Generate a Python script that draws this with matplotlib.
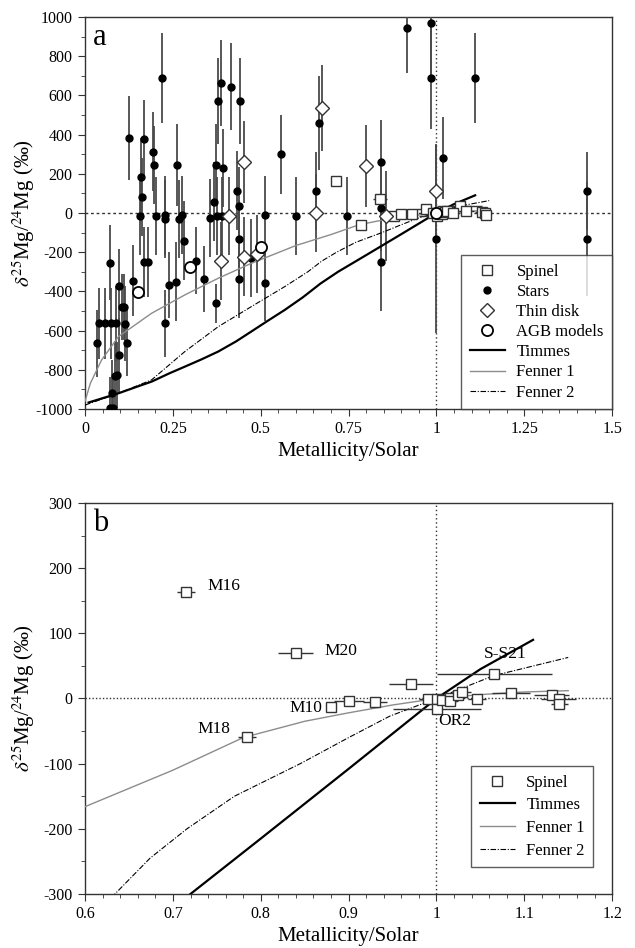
import matplotlib
matplotlib.use("Agg")
import matplotlib.pyplot as plt
from matplotlib.ticker import MultipleLocator, FixedLocator, FixedFormatter

plt.rcParams['font.family'] = ['Liberation Serif', 'DejaVu Serif']
plt.rcParams['mathtext.fontset'] = 'stix'
plt.rcParams['axes.unicode_minus'] = False

# ---------------- data ----------------
# Stars (metallicity, delta25Mg, yerr)
star_x = [0.034, 0.041, 0.058, 0.074, 0.072, 0.078, 0.071, 0.080, 0.085, 0.091,
          0.088, 0.097, 0.097, 0.104, 0.110, 0.115, 0.119, 0.137,
          0.126, 0.158, 0.163, 0.168, 0.157, 0.192, 0.197, 0.202, 0.218, 0.228,
          0.227, 0.263, 0.268, 0.277, 0.282, 0.356, 0.366, 0.372, 0.375, 0.377,
          0.386, 0.389, 0.392, 0.415, 0.433, 0.437, 0.437, 0.441, 0.513, 0.557,
          0.601, 0.665, 0.656, 0.745, 0.841, 0.841, 0.841, 0.915, 0.985, 0.985,
          1.000, 1.019, 1.110, 1.428, 1.428,
          0.168, 0.180, 0.227, 0.239, 0.258, 0.317, 0.339, 0.372, 0.437, 0.471, 0.513]
star_y = [-665, -563, -563, -563, -253, -918, -996, -996, -830, -826,
          -563, -372, -724, -480, -480, -565, -661, -345,
          384, 182, 83, 377, -14, 313, 245, -14, 690, -31,
          -12, 245, -31, -10, -141, -27, 58, 245, -14, 573,
          665, -14, 228, 645, 114, 37, -132, 573, -12, 299,
          -14, 461, 112, -15, 262, 24, -252, 942, 971, 690,
          -134, 279, 690, 112, -134,
          -250, -250, -563, -367, -350, -243, -337, -461, -337, -231, -359]
star_err = [170, 180, 180, 180, 190, 170, 160, 160, 170, 170,
            190, 190, 190, 170, 170, 190, 170, 180,
            215, 200, 200, 200, 200, 200, 200, 200, 230, 200,
            200, 210, 200, 200, 200, 200, 200, 210, 200, 220,
            220, 200, 200, 220, 200, 200, 200, 220, 200, 200,
            200, 240, 200, 200, 210, 220, 250, 230, 260, 260,
            480, 210, 230, 200, 290,
            180, 180, 170, 170, 200, 170, 170, 100, 200, 200, 190]

# Thin disk
disk_x = [0.410, 0.453, 0.386, 0.453, 0.489, 0.656, 0.673, 0.800, 0.855, 1.000]
disk_y = [-14, 259, -245, -223, -209, 0, 534, 241, -15, 112]
disk_err = [200, 210, 200, 200, 200, 200, 220, 210, 230, 240]

# AGB models
agb_x = [0.151, 0.299, 0.502, 1.000]
agb_y = [-405, -277, -172, 0]

# Spinel
sp_x = [0.715, 0.840, 0.784, 0.880, 0.900, 0.930, 0.971, 1.066, 0.990, 1.001,
        1.001, 1.006, 1.015, 1.015, 1.024, 1.029, 1.046, 1.085, 1.131, 1.139, 1.140]
sp_y = [163, 70, -59, -13, -4, -6, 22, 38, -1, -1,
        -16, -2, 1, -4, 5, 10, -1, 9, 6, -1, -9]
sp_xerr = [0.01, 0.02, 0.01, 0.005, 0.017, 0.014, 0.025, 0.065, 0.01, 0.01,
           0.05, 0.01, 0.01, 0.01, 0.01, 0.01, 0.01, 0.022, 0.02, 0.02, 0.01]
sp_labels = ['M16', 'M20', 'M18', 'M10', 'S-S21', 'OR2']
sp_label_x = [0.739, 0.873, 0.765, 0.870, 1.054, 1.002]
sp_label_y = [173, 73, -47, -14, 69, -34]

# Models
timmes_x = [0.01, 0.05, 0.095, 0.15, 0.19, 0.24, 0.284, 0.33, 0.379, 0.43, 0.473,
            0.52, 0.568, 0.62, 0.67, 0.72, 0.80, 0.90, 1.00, 1.05, 1.11]
timmes_y = [-967, -945, -920, -885, -860, -818, -784, -748, -707, -655, -605,
            -550, -495, -430, -360, -300, -215, -108, 0, 45, 90]
fen1_x = [0.0, 0.015, 0.047, 0.095, 0.189, 0.284, 0.379, 0.473, 0.568, 0.60,
          0.70, 0.78, 0.85, 0.90, 0.95, 1.00, 1.05, 1.10, 1.15]
fen1_y = [-960, -869, -750, -631, -512, -418, -333, -257, -189, -166,
          -110, -60, -35, -22, -10, 0, 6, 10, 12]
fen2_x = [0.0, 0.095, 0.189, 0.284, 0.379, 0.473, 0.568, 0.634, 0.674,
          0.716, 0.77, 0.845, 0.90, 0.947, 1.00, 1.065, 1.15]
fen2_y = [-980, -920, -852, -707, -580, -478, -376, -300, -245,
          -200, -150, -100, -60, -27, 0, 35, 63]

# ---------------- plotting ----------------
fig = plt.figure(figsize=(6.35, 9.48), dpi=100)
ax1 = fig.add_axes([0.134, 0.5686, 0.830, 0.4135])
ax2 = fig.add_axes([0.134, 0.0570, 0.830, 0.4124])

ecol = '#4a4a4a'
lw_t = 1.6
dd = (0, (5, 1.5, 1, 1.5))
ylab = r'$\delta^{25}$Mg/$^{24}$Mg (‰)'


def style_axes(ax):
    for s in ax.spines.values():
        s.set_linewidth(1.0)
        s.set_color('#333333')
    ax.tick_params(which='both', direction='out', color='#333333', labelsize=11.5,
                   pad=4)
    ax.tick_params(which='major', length=5)
    ax.tick_params(which='minor', length=3)


leg_kw = dict(fontsize=12, frameon=True, fancybox=False, edgecolor='#333333',
              handlelength=2.1, handletextpad=0.7, borderpad=0.5)

# Panel a
ax = ax1
ax.axhline(0, color='#333333', lw=1.0, ls=(0, (2, 2)), zorder=1)
ax.axvline(1, color='#333333', lw=1.0, ls=(0, (1, 2)), zorder=1)
ax.errorbar(star_x, star_y, yerr=star_err, fmt='o', ms=5, color='black',
            ecolor=ecol, elinewidth=1.3, capsize=0, zorder=3)
ax.errorbar(disk_x, disk_y, yerr=disk_err, fmt='none', ecolor=ecol,
            elinewidth=1.3, capsize=0, zorder=3)
ax.plot(timmes_x, timmes_y, color='black', lw=lw_t, zorder=4)
ax.plot(fen1_x, fen1_y, color='#8c8c8c', lw=1.0, zorder=4)
ax.plot(fen2_x, fen2_y, color='black', lw=0.8, ls=dd, zorder=4)
ax.errorbar(sp_x, sp_y, xerr=sp_xerr, fmt='none', ecolor='#333333',
            elinewidth=1.0, capsize=0, zorder=5)
ax.plot(sp_x, sp_y, 's', ms=6.5, mfc='white', mec='#333333', mew=1.0, zorder=6)
ax.plot(disk_x, disk_y, 'D', ms=7.5, mfc='white', mec='#333333', mew=1.0, zorder=6)
ax.plot(agb_x, agb_y, 'o', ms=8, mfc='white', mec='black', mew=1.3, zorder=6)

h_sp, = ax.plot([], [], 's', ms=6.5, mfc='white', mec='#333333', mew=1.0)
h_st, = ax.plot([], [], 'o', ms=5, color='black')
h_d, = ax.plot([], [], 'D', ms=7, mfc='white', mec='#333333', mew=1.0)
h_a, = ax.plot([], [], 'o', ms=8, mfc='white', mec='black', mew=1.3)
h_t, = ax.plot([], [], color='black', lw=lw_t)
h_f1, = ax.plot([], [], color='#8c8c8c', lw=1.0)
h_f2, = ax.plot([], [], color='black', lw=0.8, ls=dd)
leg = ax.legend([h_sp, h_st, h_d, h_a, h_t, h_f1, h_f2],
                ['Spinel', 'Stars', 'Thin disk', 'AGB models', 'Timmes', 'Fenner 1', 'Fenner 2'],
                loc='lower right', borderaxespad=0, labelspacing=0.25, **leg_kw)
leg.get_frame().set_linewidth(1.0)

ax.set_xlim(0, 1.5)
ax.set_ylim(-1000, 1000)
ax.xaxis.set_major_locator(FixedLocator([0, 0.25, 0.5, 0.75, 1.0, 1.25, 1.5]))
ax.xaxis.set_major_formatter(FixedFormatter(['0', '0.25', '0.5', '0.75', '1', '1.25', '1.5']))
ax.xaxis.set_minor_locator(MultipleLocator(0.05))
ax.yaxis.set_major_locator(MultipleLocator(200))
ax.yaxis.set_minor_locator(MultipleLocator(100))
style_axes(ax)
ax.set_xlabel('Metallicity/Solar', fontsize=15, labelpad=3)
ax.set_ylabel(ylab, fontsize=15)
ax.yaxis.set_label_coords(-0.092, 0.5)
ax.text(0.015, 0.985, 'a', transform=ax.transAxes, fontsize=22, va='top', ha='left')

# Panel b
ax = ax2
ax.axhline(0, color='#333333', lw=1.0, ls=(0, (1, 1.5)), zorder=1)
ax.axvline(1, color='#333333', lw=1.0, ls=(0, (1, 2)), zorder=1)
ax.plot(timmes_x, timmes_y, color='black', lw=lw_t, zorder=4)
ax.plot(fen1_x, fen1_y, color='#8c8c8c', lw=1.0, zorder=4)
ax.plot(fen2_x, fen2_y, color='black', lw=0.8, ls=dd, zorder=4)
ax.errorbar(sp_x, sp_y, xerr=sp_xerr, fmt='none', ecolor='#333333',
            elinewidth=1.0, capsize=0, zorder=5)
ax.plot(sp_x, sp_y, 's', ms=6.5, mfc='white', mec='#333333', mew=1.0, zorder=6)
for lab, lx, ly in zip(sp_labels, sp_label_x, sp_label_y):
    ha = 'right' if lab in ('M18', 'M10') else 'left'
    ax.text(lx, ly, lab, fontsize=12.5, ha=ha, va='center', zorder=7)

g_sp, = ax.plot([], [], 's', ms=6.5, mfc='white', mec='#333333', mew=1.0)
g_t, = ax.plot([], [], color='black', lw=lw_t)
g_f1, = ax.plot([], [], color='#8c8c8c', lw=1.0)
g_f2, = ax.plot([], [], color='black', lw=0.8, ls=dd)
leg2 = ax.legend([g_sp, g_t, g_f1, g_f2], ['Spinel', 'Timmes', 'Fenner 1', 'Fenner 2'],
                 loc='lower right', bbox_to_anchor=(0.964, 0.069), borderaxespad=0,
                 labelspacing=0.4, **leg_kw)
leg2.get_frame().set_linewidth(1.0)

ax.set_xlim(0.6, 1.2)
ax.set_ylim(-300, 300)
ax.xaxis.set_major_locator(FixedLocator([0.6, 0.7, 0.8, 0.9, 1.0, 1.1, 1.2]))
ax.xaxis.set_major_formatter(FixedFormatter(['0.6', '0.7', '0.8', '0.9', '1', '1.1', '1.2']))
ax.xaxis.set_minor_locator(MultipleLocator(0.02))
ax.yaxis.set_major_locator(MultipleLocator(100))
ax.yaxis.set_minor_locator(MultipleLocator(50))
style_axes(ax)
ax.set_xlabel('Metallicity/Solar', fontsize=15, labelpad=3)
ax.set_ylabel(ylab, fontsize=15)
ax.yaxis.set_label_coords(-0.092, 0.5)
ax.text(0.015, 0.985, 'b', transform=ax.transAxes, fontsize=22, va='top', ha='left')

fig.savefig('out.png', dpi=100)
